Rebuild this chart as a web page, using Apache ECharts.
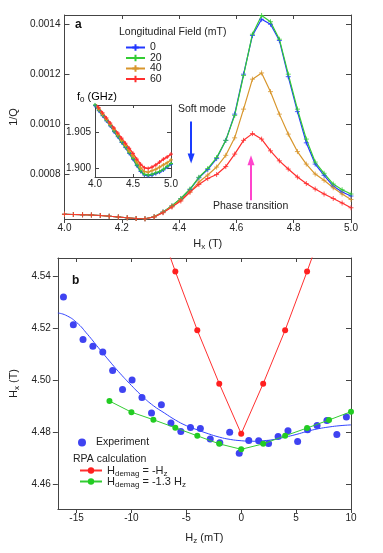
<!DOCTYPE html>
<html>
<head>
<meta charset="utf-8">
<script src="https://cdn.jsdelivr.net/npm/echarts@6/dist/echarts.min.js"></script>
<style>
  html, body { margin: 0; padding: 0; background: #fff; }
  #chart { width: 383px; height: 553px; }
</style>
</head>
<body>
<div id="chart"></div>
<script>
// panel a: 1/Q vs Hx for several longitudinal fields
const hx = [4.000, 4.031, 4.063, 4.094, 4.125, 4.156, 4.188, 4.219, 4.250, 4.281, 4.313,
  4.344, 4.375, 4.406, 4.438, 4.469, 4.500, 4.531, 4.563, 4.594, 4.625, 4.656,
  4.688, 4.719, 4.750, 4.781, 4.813, 4.844, 4.875, 4.906, 4.938, 4.969, 5.000]
const q0 = [0.000639, 0.000638, 0.000637, 0.000636, 0.000634, 0.000631, 0.000628, 0.000625, 0.000622, 0.000621, 0.000629,
  0.000648, 0.000672, 0.000701, 0.000738, 0.000785, 0.000818, 0.000862, 0.000935, 0.001040, 0.001200, 0.001355,
  0.001420, 0.001400, 0.001335, 0.001190, 0.001050, 0.000925, 0.000840, 0.000795, 0.000752, 0.000728, 0.000712]
const q20 = [0.000639, 0.000638, 0.000637, 0.000636, 0.000634, 0.000631, 0.000628, 0.000625, 0.000622, 0.000621, 0.000629,
  0.000648, 0.000673, 0.000702, 0.000740, 0.000787, 0.000822, 0.000866, 0.000935, 0.001035, 0.001195, 0.001360,
  0.001435, 0.001410, 0.001340, 0.001200, 0.001060, 0.000940, 0.000848, 0.000803, 0.000760, 0.000737, 0.000720]
const q40 = [0.000639, 0.000638, 0.000637, 0.000636, 0.000634, 0.000631, 0.000628, 0.000625, 0.000622, 0.000621, 0.000629,
  0.000647, 0.000670, 0.000696, 0.000728, 0.000768, 0.000796, 0.000828, 0.000875, 0.000945, 0.001060, 0.001180,
  0.001205, 0.001130, 0.001040, 0.000960, 0.000890, 0.000840, 0.000800, 0.000775, 0.000745, 0.000720, 0.000698]
const q60 = [0.000639, 0.000638, 0.000637, 0.000636, 0.000634, 0.000631, 0.000628, 0.000625, 0.000622, 0.000621, 0.000628,
  0.000645, 0.000668, 0.000692, 0.000728, 0.000758, 0.000782, 0.000798, 0.000830, 0.000880, 0.000935, 0.000962,
  0.000940, 0.000893, 0.000853, 0.000820, 0.000788, 0.000762, 0.000740, 0.000720, 0.000702, 0.000684, 0.000665]
const fieldNames = ['0', '20', '40', '60']
const fieldColors = ['#2338ff', '#33cc33', '#d8962c', '#ff2e2e']

// inset: f0 (GHz)
const insetH = [4.00, 4.05, 4.10, 4.15, 4.20, 4.25, 4.30, 4.35, 4.40, 4.45, 4.50,
  4.55, 4.60, 4.65, 4.70, 4.75, 4.80, 4.85, 4.90, 4.95, 5.00]
const f0 = [1.9087, 1.9080, 1.9073, 1.9066, 1.9059, 1.9051, 1.9044, 1.9036, 1.9029, 1.9021, 1.9013,
  1.9004, 1.8996, 1.8991, 1.8990, 1.8991, 1.8993, 1.8995, 1.8998, 1.9002, 1.9006]
const f20 = [1.9088, 1.9081, 1.9074, 1.9067, 1.9060, 1.9052, 1.9045, 1.9037, 1.9030, 1.9022, 1.9014,
  1.9005, 1.8997, 1.8992, 1.8991, 1.8992, 1.8994, 1.8996, 1.8999, 1.9003, 1.9007]
const f40 = [1.9089, 1.9082, 1.9075, 1.9068, 1.9061, 1.9054, 1.9047, 1.9039, 1.9032, 1.9024, 1.9017,
  1.9009, 1.9001, 1.8996, 1.8995, 1.8997, 1.8999, 1.9002, 1.9005, 1.9008, 1.9012]
const f60 = [1.9091, 1.9084, 1.9077, 1.9070, 1.9063, 1.9056, 1.9049, 1.9042, 1.9035, 1.9028, 1.9021,
  1.9013, 1.9006, 1.9001, 1.9000, 1.9002, 1.9005, 1.9009, 1.9013, 1.9016, 1.9020]

// panel b: Hx vs Hz
const hzExp = [-16.19, -15.29, -14.41, -13.51, -12.61, -11.71, -10.81, -9.94, -9.04, -8.17, -7.27, -6.40, -5.50, -4.62, -3.72,
  -2.82, -1.95, -1.05, -0.18, 0.69, 1.59, 2.49, 3.36, 4.26, 5.14, 6.04, 6.91, 7.81, 8.71, 9.58]
const hxExp = [4.5320, 4.5213, 4.5156, 4.5130, 4.5108, 4.5037, 4.4963, 4.5000, 4.4933, 4.4873, 4.4905, 4.4834, 4.4802, 4.4817, 4.4813,
  4.4773, 4.4758, 4.4799, 4.4718, 4.4767, 4.4766, 4.4755, 4.4782, 4.4804, 4.4763, 4.4808, 4.4825, 4.4844, 4.4790, 4.4857]
const hzFit = [-16.7, -16, -15, -14, -13, -12, -11, -10, -9, -8, -7, -6, -5, -4, -3, -2, -1, 0, 1, 2, 3, 4, 5, 6, 7, 8, 9, 10]
const hxFit = [4.5258, 4.5250, 4.5222, 4.5176, 4.5124, 4.5073, 4.5024, 4.4979, 4.4937, 4.4901, 4.4873, 4.4846, 4.4824, 4.4808,
  4.4793, 4.4780, 4.4771, 4.4766, 4.4764, 4.4766, 4.4771, 4.4780, 4.4790, 4.4802, 4.4812, 4.4819, 4.4824, 4.4827]
const hzRpaA = [-8, -6, -4, -2, 0, 2, 4, 6, 8]
const hxRpaA = [4.5655, 4.5418, 4.5192, 4.4986, 4.4793, 4.4986, 4.5192, 4.5418, 4.5655]
const hzRpaB = [-12, -10, -8, -6, -4, -2, 0, 2, 4, 6, 8, 10]
const hxRpaB = [4.4919, 4.4876, 4.4847, 4.4816, 4.4785, 4.4754, 4.4733, 4.4754, 4.4785, 4.4815, 4.4846, 4.4878]

// tick labels
const ticksAY = [0.0008, 0.0010, 0.0012, 0.0014]
const ticksInsetY = [1.900, 1.905]
const ticksBX = [-15, -10, -5, 0, 5, 10]
const ticksBY = [4.46, 4.48, 4.50, 4.52, 4.54]

const FONT = 'Liberation Sans'
const AX = '#444'
const plus = 'path://M0,5L10,5M5,0L5,10'
const zip = (xs, ys) => xs.map((x, i) => [x, ys[i]])
const sub = { a: { fontSize: 11, fontFamily: FONT, color: '#222', lineHeight: 14 },
  s: { fontSize: 8, fontFamily: FONT, color: '#222', lineHeight: 14, verticalAlign: 'bottom' } }

function axis(grid, pos, min, max, o) {
  o = o || {}
  return Object.assign({
    type: 'value', gridIndex: grid, position: pos, min: min, max: max,
    axisLine: { show: true, onZero: false, lineStyle: { color: AX, width: 1 } },
    axisTick: { show: true, inside: o.inside !== false, length: 4, lineStyle: { color: AX } },
    axisLabel: { show: false },
    splitLine: { show: false }
  }, o.extra || {})
}
function labels(fmt, margin, custom) {
  const l = { show: true, fontSize: 10, fontFamily: FONT, color: '#222', margin: margin, formatter: fmt }
  if (custom) l.customValues = custom
  return l
}

let mycharts = echarts.init(document.getElementById('chart'))

const series = []
const qs = [q0, q20, q40, q60]
qs.forEach((q, i) => {
  series.push({
    name: fieldNames[i], type: 'line', xAxisIndex: 0, yAxisIndex: 0,
    data: zip(hx, q), symbol: plus, symbolSize: 5,
    itemStyle: { color: fieldColors[i], borderColor: fieldColors[i], borderWidth: 0.8 },
    lineStyle: { color: fieldColors[i], width: 1.2 }
  })
})
// arrows
series[3].markLine = {
  silent: true, symbol: ['none', 'triangle'], symbolSize: [7, 10],
  label: { show: false },
  data: [
    [{ coord: [4.442, 0.00101], lineStyle: { color: '#1a3cff', width: 2, type: 'solid' } }, { coord: [4.442, 0.000862] }],
    [{ coord: [4.651, 0.000695], lineStyle: { color: '#ff44cc', width: 2, type: 'solid' } }, { coord: [4.651, 0.000855] }]
  ]
}
const fs = [f0, f20, f40, f60]
fs.forEach((f, i) => {
  series.push({
    name: 'f0 ' + fieldNames[i], type: 'line', xAxisIndex: 2, yAxisIndex: 2,
    data: zip(insetH, f), symbol: plus, symbolSize: 4,
    itemStyle: { color: fieldColors[i], borderColor: fieldColors[i], borderWidth: 1 },
    lineStyle: { color: fieldColors[i], width: 1.5 }
  })
})
series.push({
  name: 'fit', type: 'line', xAxisIndex: 4, yAxisIndex: 4, data: zip(hzFit, hxFit),
  smooth: true, showSymbol: false, lineStyle: { color: '#3344ff', width: 1 }
})
series.push({
  name: 'Hdemag = -Hz', type: 'line', xAxisIndex: 4, yAxisIndex: 4, data: zip(hzRpaA, hxRpaA),
  symbol: 'circle', symbolSize: 6, itemStyle: { color: '#ff1f1f' }, lineStyle: { color: '#ff3030', width: 1 }
})
series.push({
  name: 'Hdemag = -1.3 Hz', type: 'line', xAxisIndex: 4, yAxisIndex: 4, data: zip(hzRpaB, hxRpaB),
  symbol: 'circle', symbolSize: 6, itemStyle: { color: '#22cc22' }, lineStyle: { color: '#33cc33', width: 1 }
})
series.push({
  name: 'Experiment', type: 'scatter', xAxisIndex: 4, yAxisIndex: 4, data: zip(hzExp, hxExp),
  symbolSize: 7, itemStyle: { color: '#0f14ee' }
})

const legText = { fontSize: 10.5, fontFamily: FONT, color: '#222' }

mycharts.setOption({
  animation: false,
  grid: [
    { left: 59, top: 15, width: 292, height: 204 },
    { left: 95, top: 105, width: 76, height: 72, show: true, backgroundColor: '#fff', borderWidth: 0 },
    { left: 54, top: 258, width: 297, height: 251 }
  ],
  xAxis: [
    axis(0, 'bottom', 4, 5, { inside: false, extra: { interval: 0.2, axisLabel: labels(v => v.toFixed(1), 4),
      name: '{a|H}{s|x}{a| (T)}', nameLocation: 'middle', nameGap: 18, nameTextStyle: { rich: sub } } }),
    axis(0, 'top', 4, 5, { extra: { interval: 0.2 } }),
    axis(1, 'bottom', 4, 5, { extra: { interval: 0.5, axisTick: { inside: true, length: 3, lineStyle: { color: AX } },
      axisLabel: labels(v => v.toFixed(1), 2) } }),
    axis(1, 'top', 4, 5, { extra: { interval: 0.5, axisTick: { inside: true, length: 3, lineStyle: { color: AX } } } }),
    axis(2, 'bottom', -16.7, 10, { inside: false, extra: {
      axisTick: { show: true, inside: false, length: 4, customValues: ticksBX, lineStyle: { color: AX } },
      axisLabel: labels(v => String(v), 4, ticksBX),
      name: '{a|H}{s|z}{a| (mT)}', nameLocation: 'middle', nameGap: 22, nameTextStyle: { rich: sub } } }),
    axis(2, 'top', -16.7, 10, { extra: { axisTick: { show: true, inside: true, length: 4, customValues: ticksBX, lineStyle: { color: AX } } } })
  ],
  yAxis: [
    axis(0, 'left', 0.00062, 0.001437, { extra: {
      axisTick: { show: true, inside: true, length: 5, customValues: ticksAY, lineStyle: { color: AX } },
      axisLabel: labels(v => v.toFixed(4), 4, ticksAY),
      name: '1/Q', nameLocation: 'middle', nameGap: 40, nameRotate: 90,
      nameTextStyle: { fontSize: 11, fontFamily: FONT, color: '#222' } } }),
    axis(0, 'right', 0.00062, 0.001437, { extra: {
      axisTick: { show: true, inside: true, length: 5, customValues: ticksAY, lineStyle: { color: AX } } } }),
    axis(1, 'left', 1.89883, 1.90879, { extra: {
      axisTick: { show: true, inside: true, length: 4, customValues: ticksInsetY, lineStyle: { color: AX } },
      axisLabel: labels(v => v.toFixed(3), 4, ticksInsetY) } }),
    axis(1, 'right', 1.89883, 1.90879, { extra: {
      axisTick: { show: true, inside: true, length: 4, customValues: ticksInsetY, lineStyle: { color: AX } } } }),
    axis(2, 'left', 4.4503, 4.547, { extra: {
      axisTick: { show: true, inside: false, length: 5, customValues: ticksBY, lineStyle: { color: AX } },
      axisLabel: labels(v => v.toFixed(2), 7, ticksBY),
      name: '{a|H}{s|x}{a| (T)}', nameLocation: 'middle', nameGap: 36, nameRotate: 90, nameTextStyle: { rich: sub } } }),
    axis(2, 'right', 4.4503, 4.547, { extra: {
      axisTick: { show: true, inside: true, length: 5, customValues: ticksBY, lineStyle: { color: AX } } } })
  ],
  legend: [
    { data: fieldNames, orient: 'vertical', left: 120, top: 37, itemWidth: 19, itemHeight: 8, itemGap: -0.5,
      textStyle: Object.assign({ lineHeight: 10 }, legText), selectedMode: false },
    { data: ['Experiment'], left: 73, top: 432, itemWidth: 18, itemHeight: 8, icon: 'circle',
      textStyle: legText, selectedMode: false },
    { data: ['Hdemag = -Hz'], left: 74, top: 460, itemWidth: 22, itemHeight: 8, selectedMode: false,
      formatter: () => '{a|H}{s|demag}{a| = -H}{s|z}', textStyle: { rich: sub } },
    { data: ['Hdemag = -1.3 Hz'], left: 74, top: 471, itemWidth: 22, itemHeight: 8, selectedMode: false,
      formatter: () => '{a|H}{s|demag}{a| = -1.3 H}{s|z}', textStyle: { rich: sub } }
  ],
  graphic: [
    { type: 'text', x: 75, y: 19, style: { text: 'a', font: 'bold 12px ' + FONT, fill: '#111' } },
    { type: 'text', x: 119, y: 27, style: { text: 'Longitudinal Field (mT)', font: '10.5px ' + FONT, fill: '#222' } },
    { type: 'text', x: 178, y: 104, style: { text: 'Soft mode', font: '10.5px ' + FONT, fill: '#222' } },
    { type: 'text', x: 213, y: 201, style: { text: 'Phase transition', font: '10.5px ' + FONT, fill: '#222' } },
    { type: 'text', x: 77, y: 90, style: { text: '{a|f}{s|0}{a| (GHz)}', rich: sub } },
    { type: 'text', x: 72, y: 275, style: { text: 'b', font: 'bold 12px ' + FONT, fill: '#111' } },
    { type: 'text', x: 73, y: 454, style: { text: 'RPA calculation', font: '10.5px ' + FONT, fill: '#222' } }
  ],
  series: series
})
</script>
</body>
</html>
